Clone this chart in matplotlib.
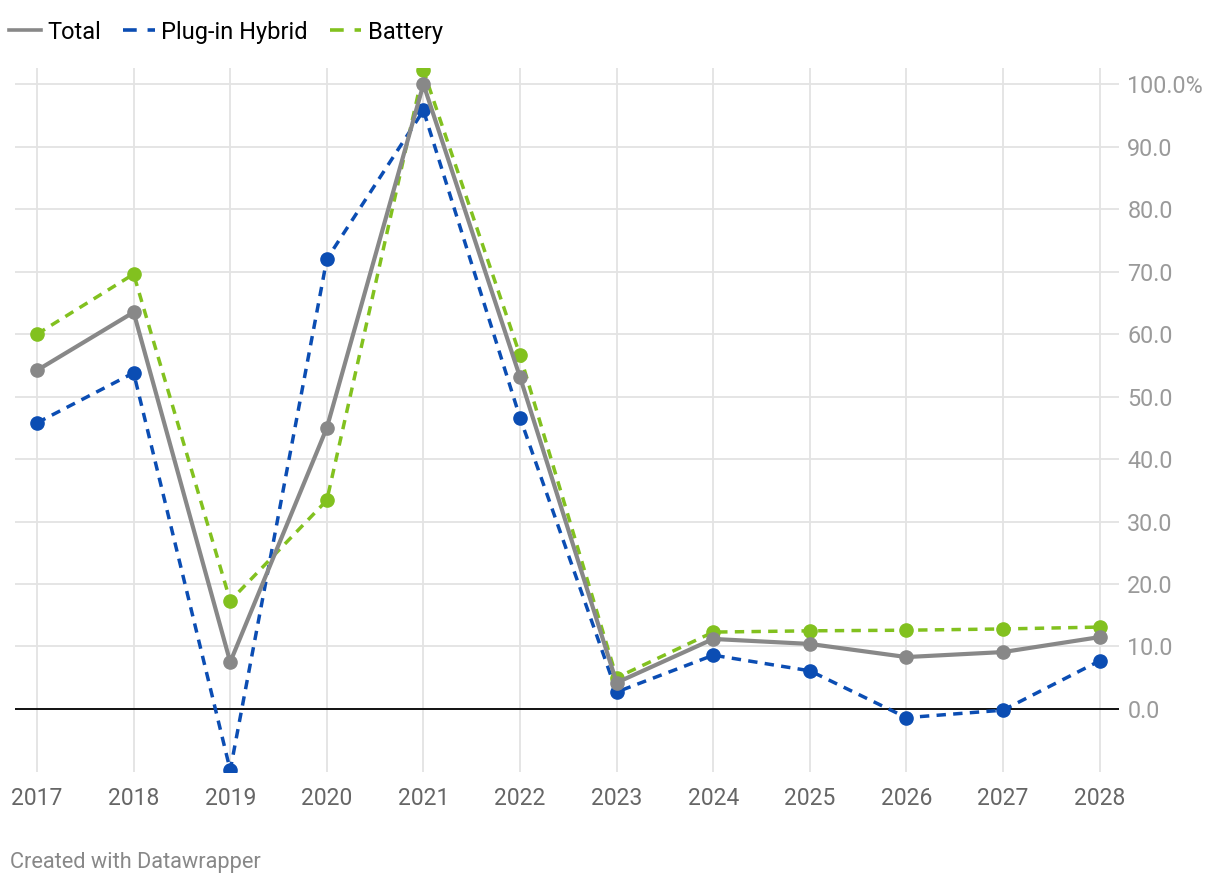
import matplotlib.pyplot as plt
from matplotlib.lines import Line2D
from matplotlib.ticker import FuncFormatter

plt.rcParams['font.family'] = ['Roboto', 'DejaVu Sans']

years = [2017, 2018, 2019, 2020, 2021, 2022, 2023, 2024, 2025, 2026, 2027, 2028]
total = [54.2, 63.5, 7.5, 45.0, 100.0, 53.1, 4.2, 11.2, 10.4, 8.3, 9.1, 11.5]
plugin = [45.8, 53.8, -9.8, 72.0, 95.8, 46.6, 2.7, 8.6, 6.1, -1.4, -0.2, 7.7]
battery = [60.0, 69.6, 17.3, 33.4, 102.2, 56.6, 5.0, 12.3, 12.5, 12.6, 12.8, 13.1]
yticks = [0, 10, 20, 30, 40, 50, 60, 70, 80, 90, 100]

c_total = '#888888'
c_plugin = '#0b4db3'
c_battery = '#82c11f'
dash = (0, (2.7, 2.1))

fig = plt.figure(figsize=(12.2, 8.88), dpi=100)
ax = fig.add_axes([15 / 1220, 1 - 772 / 888, (1119 - 15) / 1220, (772 - 68) / 888])

ax.plot(years, battery, color=c_battery, lw=2.5, ls=dash,
        marker='o', ms=9.5, zorder=3)
ax.plot(years, plugin, color=c_plugin, lw=2.5, ls=dash,
        marker='o', ms=9.5, zorder=4)
ax.plot(years, total, color=c_total, lw=3, marker='o', ms=9.5, zorder=5)

ax.axhline(0, color='#000000', lw=1.3, zorder=2)

ax.set_xlim(2017 - 0.228, 2028 + 0.2)
ax.set_ylim(-10.1, 102.6)
ax.set_xticks(years)
ax.set_xticklabels([str(y) for y in years])
ax.set_yticks(yticks)
ax.yaxis.set_major_formatter(FuncFormatter(
    lambda v, p: '100.0%' if v == 100 else f'{v:.1f}'))
ax.yaxis.tick_right()

ax.grid(True, color='#e3e3e3', lw=1.3, zorder=0)
ax.tick_params(axis='y', length=0, pad=6, labelsize=16.8, labelcolor='#9a9a9a')
ax.tick_params(axis='x', length=0, pad=11, labelsize=16.5, labelcolor='#666666')
for s in ax.spines.values():
    s.set_visible(False)

handles = [
    Line2D([], [], color=c_total, lw=2.6),
    Line2D([], [], color=c_plugin, lw=2.6, ls=(0, (3.8, 3.0))),
    Line2D([], [], color=c_battery, lw=2.6, ls=(0, (3.8, 3.0))),
]
fig.legend(handles, ['Total', 'Plug-in Hybrid', 'Battery'], loc='upper left',
           bbox_to_anchor=(4 / 1220, 1 - 16 / 888), ncol=3, frameon=False,
           fontsize=17, handlelength=1.35, handletextpad=0.27,
           columnspacing=0.93, borderaxespad=0.0, borderpad=0.2)

fig.text(10 / 1220, 1 - 862 / 888, 'Created with Datawrapper', fontsize=15.7,
         color='#888888', va='center')

fig.savefig('out.png', dpi=100)
